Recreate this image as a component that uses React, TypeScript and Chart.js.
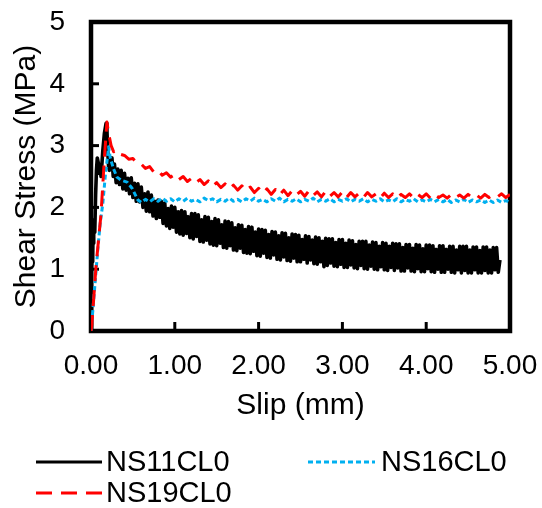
import React, { useEffect, useRef } from 'react';
import { Chart, registerables } from 'chart.js';

Chart.register(...registerables);

const seriesNames = ['NS11CL0', 'NS16CL0', 'NS19CL0'];
const seriesColors = ['#000000', '#00B0F0', '#FF0000'];
const xTickValues = [0, 1, 2, 3, 4, 5];
const xTickLabels = ['0.00', '1.00', '2.00', '3.00', '4.00', '5.00'];
const yTickValues = [0, 1, 2, 3, 4, 5];
const yTickLabels = ['0', '1', '2', '3', '4', '5'];
const xTitle = 'Slip (mm)';
const yTitle = 'Shear Stress (MPa)';

// NS11CL0 (black, solid, heavy noise)
const ns11Points: number[][] = [
  [0.0, 0.0], [0.005, 0.45], [0.01, 1.0], [0.015, 1.35], [0.02, 1.12], [0.025, 1.7], [0.03, 1.42], [0.035, 1.8],
  [0.045, 1.6], [0.055, 2.2], [0.065, 2.6], [0.075, 2.8], [0.09, 2.7], [0.1, 2.55], [0.11, 2.62], [0.12, 2.5],
  [0.14, 2.9], [0.16, 3.2], [0.18, 3.36], [0.19, 3.25], [0.2, 2.9], [0.21, 2.65], [0.22, 2.6], [0.235, 2.75],
  [0.25, 2.8], [0.265, 2.5],
  [0.28, 2.7], [0.3, 2.4], [0.32, 2.62], [0.34, 2.37], [0.36, 2.6], [0.38, 2.3], [0.4, 2.55], [0.42, 2.28], [0.44, 2.47], [0.46, 2.22],
  [0.48, 2.48], [0.5, 2.16], [0.52, 2.39], [0.54, 2.1], [0.56, 2.38], [0.58, 2.09], [0.6, 2.33], [0.62, 2.0], [0.64, 2.22], [0.66, 1.94],
  [0.68, 2.25], [0.7, 1.93], [0.72, 2.2], [0.74, 1.86], [0.76, 2.1], [0.78, 1.82], [0.8, 2.12], [0.82, 1.84], [0.84, 2.1], [0.86, 1.74],
  [0.88, 2.07], [0.9, 1.7], [0.92, 1.98], [0.94, 1.66], [0.96, 2.02], [0.98, 1.68], [1.0, 2.0], [1.02, 1.6], [1.04, 1.93], [1.06, 1.57],
  [1.08, 1.95], [1.1, 1.55], [1.12, 1.93], [1.14, 1.58], [1.16, 1.85], [1.18, 1.51], [1.2, 1.9], [1.22, 1.49], [1.24, 1.9], [1.26, 1.53],
  [1.28, 1.88], [1.3, 1.45], [1.32, 1.8], [1.34, 1.44], [1.36, 1.85], [1.38, 1.47], [1.4, 1.84], [1.42, 1.41], [1.44, 1.77], [1.46, 1.39],
  [1.48, 1.82], [1.5, 1.38], [1.52, 1.8], [1.54, 1.42], [1.56, 1.72], [1.58, 1.35], [1.6, 1.78], [1.62, 1.34], [1.64, 1.77], [1.66, 1.38],
  [1.68, 1.75], [1.7, 1.31], [1.72, 1.67], [1.74, 1.3], [1.76, 1.72], [1.78, 1.34], [1.8, 1.71], [1.82, 1.27], [1.84, 1.64], [1.86, 1.26],
  [1.88, 1.69], [1.9, 1.25], [1.92, 1.68], [1.94, 1.29], [1.96, 1.6], [1.98, 1.22], [2.0, 1.65], [2.02, 1.21], [2.04, 1.64], [2.06, 1.26],
  [2.08, 1.63], [2.1, 1.19], [2.12, 1.56], [2.14, 1.18], [2.16, 1.61], [2.18, 1.23], [2.2, 1.6], [2.22, 1.16], [2.24, 1.54], [2.26, 1.15],
  [2.28, 1.59], [2.3, 1.2], [2.32, 1.58], [2.34, 1.14], [2.36, 1.51], [2.38, 1.13], [2.4, 1.57], [2.42, 1.18], [2.44, 1.56], [2.46, 1.12],
  [2.48, 1.55], [2.5, 1.12], [2.52, 1.48], [2.54, 1.16], [2.56, 1.54], [2.58, 1.1], [2.6, 1.53], [2.62, 1.15], [2.64, 1.47], [2.66, 1.09],
  [2.68, 1.52], [2.7, 1.08], [2.72, 1.51], [2.74, 1.12], [2.76, 1.45], [2.78, 1.04], [2.8, 1.5], [2.82, 1.06], [2.84, 1.49], [2.86, 1.1],
  [2.88, 1.49], [2.9, 1.05], [2.92, 1.43], [2.94, 1.04], [2.96, 1.48], [2.98, 1.08], [3.0, 1.48], [3.02, 1.03], [3.04, 1.42], [3.06, 1.03],
  [3.08, 1.47], [3.1, 1.07], [3.12, 1.46], [3.14, 1.02], [3.16, 1.4], [3.18, 1.01], [3.2, 1.45], [3.22, 1.06], [3.24, 1.45], [3.26, 1.01],
  [3.28, 1.45], [3.3, 1.0], [3.32, 1.39], [3.34, 1.05], [3.36, 1.44], [3.38, 1.0], [3.4, 1.43], [3.42, 0.99], [3.44, 1.37], [3.46, 1.04],
  [3.48, 1.43], [3.5, 0.99], [3.52, 1.42], [3.54, 0.98], [3.56, 1.37], [3.58, 1.03], [3.6, 1.42], [3.62, 0.98], [3.64, 1.41], [3.66, 1.02],
  [3.68, 1.41], [3.7, 0.97], [3.72, 1.35], [3.74, 0.97], [3.76, 1.4], [3.78, 1.02], [3.8, 1.4], [3.82, 0.97], [3.84, 1.34], [3.86, 0.96],
  [3.88, 1.4], [3.9, 1.01], [3.92, 1.39], [3.94, 0.96], [3.96, 1.33], [3.98, 0.96], [4.0, 1.39], [4.02, 1.01], [4.04, 1.39], [4.06, 0.96],
  [4.08, 1.38], [4.1, 0.95], [4.12, 1.32], [4.14, 1.0], [4.16, 1.38], [4.18, 0.95], [4.2, 1.38], [4.22, 0.95], [4.24, 1.32], [4.26, 1.0],
  [4.28, 1.37], [4.3, 0.95], [4.32, 1.37], [4.34, 0.94], [4.36, 1.31], [4.38, 0.99], [4.4, 1.37], [4.42, 0.94], [4.44, 1.37], [4.46, 0.98],
  [4.48, 1.37], [4.5, 0.94], [4.52, 1.31], [4.54, 0.94], [4.56, 1.36], [4.58, 0.99], [4.6, 1.36], [4.62, 0.94], [4.64, 1.3], [4.66, 0.94],
  [4.68, 1.36], [4.7, 0.98], [4.72, 1.36], [4.74, 0.94], [4.76, 1.31], [4.78, 0.94], [4.8, 1.35], [4.82, 0.99], [4.84, 1.35], [4.86, 0.95],
  [4.88, 1.15],
];

// NS16CL0 (light blue, dotted)
const ns16Points: number[][] = [
  [0.0, 0.0], [0.02, 0.3], [0.05, 0.8], [0.08, 1.3], [0.11, 1.75], [0.14, 2.05], [0.17, 2.5], [0.21, 2.98],
  [0.23, 2.8], [0.27, 2.62], [0.31, 2.49], [0.36, 2.44], [0.43, 2.41], [0.49, 2.31], [0.53, 2.2], [0.56, 2.12],
  [0.6, 2.08], [0.65, 2.13], [0.7, 2.09], [0.75, 2.14], [0.8, 2.1], [0.85, 2.15], [0.9, 2.1], [0.95, 2.14],
  [1.0, 2.09], [1.05, 2.14], [1.1, 2.1], [1.15, 2.15], [1.2, 2.1], [1.25, 2.13], [1.3, 2.09], [1.35, 2.15],
  [1.4, 2.11], [1.45, 2.14], [1.5, 2.09], [1.55, 2.13], [1.6, 2.1], [1.65, 2.15], [1.7, 2.1], [1.75, 2.13],
  [1.8, 2.09], [1.85, 2.14], [1.9, 2.1], [1.95, 2.15], [2.0, 2.1], [2.05, 2.13], [2.1, 2.09], [2.15, 2.14],
  [2.2, 2.1], [2.25, 2.15], [2.3, 2.09], [2.35, 2.13], [2.4, 2.1], [2.45, 2.14], [2.5, 2.09], [2.55, 2.13],
  [2.6, 2.1], [2.65, 2.15], [2.7, 2.09], [2.75, 2.13], [2.8, 2.1], [2.85, 2.14], [2.9, 2.09], [2.95, 2.13],
  [3.0, 2.1], [3.05, 2.14], [3.1, 2.09], [3.15, 2.13], [3.2, 2.1], [3.25, 2.14], [3.3, 2.09], [3.35, 2.13],
  [3.4, 2.1], [3.45, 2.14], [3.5, 2.09], [3.55, 2.12], [3.6, 2.09], [3.65, 2.14], [3.7, 2.09], [3.75, 2.13],
  [3.8, 2.1], [3.85, 2.14], [3.9, 2.09], [3.95, 2.12], [4.0, 2.09], [4.05, 2.13], [4.1, 2.09], [4.15, 2.13],
  [4.2, 2.09], [4.25, 2.13], [4.3, 2.08], [4.35, 2.12], [4.4, 2.09], [4.45, 2.13], [4.5, 2.08], [4.55, 2.12],
  [4.6, 2.09], [4.65, 2.12], [4.7, 2.08], [4.75, 2.12], [4.8, 2.08], [4.85, 2.12], [4.9, 2.08], [4.95, 2.11],
  [5.0, 2.08],
];

// NS19CL0 (red, dashed)
const ns19Points: number[][] = [
  [0.0, 0.0], [0.01, 0.1], [0.06, 1.05], [0.12, 1.9], [0.16, 2.8], [0.19, 3.38], [0.21, 3.2], [0.24, 3.0],
  [0.27, 2.9], [0.3, 2.93], [0.35, 2.86], [0.4, 2.84], [0.45, 2.78], [0.5, 2.79], [0.55, 2.71], [0.6, 2.7],
  [0.65, 2.63], [0.7, 2.66], [0.75, 2.57], [0.8, 2.6], [0.85, 2.52], [0.9, 2.56], [0.95, 2.49], [1.0, 2.53],
  [1.05, 2.45], [1.1, 2.5], [1.15, 2.42], [1.2, 2.47], [1.25, 2.4], [1.3, 2.45], [1.35, 2.37], [1.4, 2.43],
  [1.45, 2.34], [1.5, 2.4], [1.55, 2.32], [1.6, 2.38], [1.65, 2.3], [1.7, 2.36], [1.75, 2.28], [1.8, 2.35],
  [1.85, 2.27], [1.9, 2.33], [1.95, 2.24], [2.0, 2.31], [2.05, 2.23], [2.1, 2.3], [2.15, 2.21], [2.2, 2.29],
  [2.25, 2.2], [2.3, 2.28], [2.35, 2.19], [2.4, 2.27], [2.45, 2.2], [2.5, 2.26], [2.55, 2.18], [2.6, 2.27],
  [2.65, 2.19], [2.7, 2.25], [2.75, 2.17], [2.8, 2.26], [2.85, 2.18], [2.9, 2.24], [2.95, 2.17], [3.0, 2.25],
  [3.05, 2.16], [3.1, 2.24], [3.15, 2.17], [3.2, 2.23], [3.25, 2.16], [3.3, 2.24], [3.35, 2.17], [3.4, 2.22],
  [3.45, 2.15], [3.5, 2.23], [3.55, 2.16], [3.6, 2.22], [3.65, 2.15], [3.7, 2.21], [3.75, 2.16], [3.8, 2.22],
  [3.85, 2.15], [3.9, 2.21], [3.95, 2.16], [4.0, 2.22], [4.05, 2.15], [4.1, 2.21], [4.15, 2.16], [4.2, 2.2],
  [4.25, 2.15], [4.3, 2.21], [4.35, 2.16], [4.4, 2.2], [4.45, 2.15], [4.5, 2.21], [4.55, 2.16], [4.6, 2.2],
  [4.65, 2.15], [4.7, 2.21], [4.75, 2.16], [4.8, 2.2], [4.85, 2.17], [4.9, 2.22], [4.95, 2.16], [5.0, 2.21],
];

const FONT = '"Liberation Sans", Arial, sans-serif';
const dashes = [[], [5, 3], [16, 9]];
const widths = [3.6, 3, 3];

const toXY = (pts: number[][]) => pts.map(([x, y]) => ({ x, y }));

const framePlugin = {
  id: 'frame',
  beforeDatasetsDraw(chart: any) {
    const { ctx, chartArea, scales } = chart;
    const { left, right, top, bottom } = chartArea;
    ctx.save();
    ctx.strokeStyle = '#000';
    ctx.lineWidth = 3;
    xTickValues.forEach((v) => {
      const px = scales.x.getPixelForValue(v);
      ctx.beginPath();
      ctx.moveTo(px, bottom);
      ctx.lineTo(px, bottom - 9);
      ctx.stroke();
    });
    yTickValues.forEach((v) => {
      const py = scales.y.getPixelForValue(v);
      ctx.beginPath();
      ctx.moveTo(left, py);
      ctx.lineTo(left + 8, py);
      ctx.stroke();
    });
    ctx.lineWidth = 4.5;
    ctx.strokeRect(left, top, right - left, bottom - top);
    ctx.restore();
  },
  afterDraw(chart: any) {
    const { ctx } = chart;
    const items = [
      { i: 0, x0: 36, x1: 102, tx: 106, y: 462 },
      { i: 1, x0: 308, x1: 375, tx: 381, y: 462 },
      { i: 2, x0: 36, x1: 102, tx: 106, y: 493 },
    ];
    ctx.save();
    items.forEach(({ i, x0, x1, tx, y }) => {
      ctx.strokeStyle = seriesColors[i];
      ctx.lineWidth = 3;
      ctx.setLineDash(dashes[i]);
      ctx.beginPath();
      ctx.moveTo(x0, y);
      ctx.lineTo(x1, y);
      ctx.stroke();
      ctx.setLineDash([]);
      ctx.fillStyle = '#000';
      ctx.font = `29px ${FONT}`;
      ctx.textBaseline = 'middle';
      ctx.textAlign = 'left';
      ctx.fillText(seriesNames[i], tx, y + 1);
    });
    ctx.restore();
  },
};

export default function App() {
  const canvasRef = useRef<HTMLCanvasElement | null>(null);

  useEffect(() => {
    if (!canvasRef.current) return;
    const allPoints = [ns11Points, ns16Points, ns19Points];
    const chart = new Chart(canvasRef.current, {
      type: 'scatter',
      data: {
        datasets: allPoints.map((pts, i) => ({
          label: seriesNames[i],
          data: toXY(pts),
          showLine: true,
          borderColor: seriesColors[i],
          backgroundColor: seriesColors[i],
          borderWidth: widths[i],
          borderDash: dashes[i],
          borderJoinStyle: 'round',
          pointRadius: 0,
          pointHoverRadius: 0,
          tension: 0,
          order: 3 - i,
        })),
      },
      options: {
        responsive: false,
        animation: false,
        devicePixelRatio: 1,
        layout: { padding: { left: 0, right: 32, top: 22, bottom: 0 } },
        plugins: {
          legend: { display: false },
          tooltip: { enabled: false },
        },
        scales: {
          x: {
            type: 'linear',
            min: 0,
            max: 5,
            afterBuildTicks: (s: any) => {
              s.ticks = xTickValues.map((v) => ({ value: v }));
            },
            afterFit: (s: any) => {
              s.height = 177;
              s.paddingLeft = 0;
              s.paddingRight = 0;
              s.paddingTop = 0;
              s.paddingBottom = 0;
            },
            grid: { display: false, drawTicks: false },
            border: { display: false },
            ticks: {
              padding: 18,
              color: '#000',
              font: { family: FONT, size: 28 },
              maxRotation: 0,
              autoSkip: false,
              callback: (v: any) => {
                const k = xTickValues.indexOf(Number(v));
                return k >= 0 ? xTickLabels[k] : '';
              },
            },
            title: {
              display: true,
              text: xTitle,
              color: '#000',
              font: { family: FONT, size: 30 },
              padding: { top: 0, bottom: 84 },
            },
          },
          y: {
            type: 'linear',
            min: 0,
            max: 5,
            afterBuildTicks: (s: any) => {
              s.ticks = yTickValues.map((v) => ({ value: v }));
            },
            afterFit: (s: any) => {
              s.width = 91;
              s.paddingLeft = 0;
              s.paddingRight = 0;
              s.paddingTop = 0;
              s.paddingBottom = 0;
            },
            grid: { display: false, drawTicks: false },
            border: { display: false },
            ticks: {
              padding: 26,
              color: '#000',
              font: { family: FONT, size: 28 },
              autoSkip: false,
              callback: (v: any) => {
                const k = yTickValues.indexOf(Number(v));
                return k >= 0 ? yTickLabels[k] : '';
              },
            },
            title: {
              display: true,
              text: yTitle,
              color: '#000',
              font: { family: FONT, size: 30 },
              padding: { top: 9, bottom: 0 },
            },
          },
        },
      },
      plugins: [framePlugin],
    } as any);
    return () => chart.destroy();
  }, []);

  return (
    <div style={{ position: 'absolute', left: 0, top: 0, width: 542, height: 508, background: '#fff' }}>
      <canvas ref={canvasRef} width={542} height={508} style={{ display: 'block', width: 542, height: 508 }} />
    </div>
  );
}
